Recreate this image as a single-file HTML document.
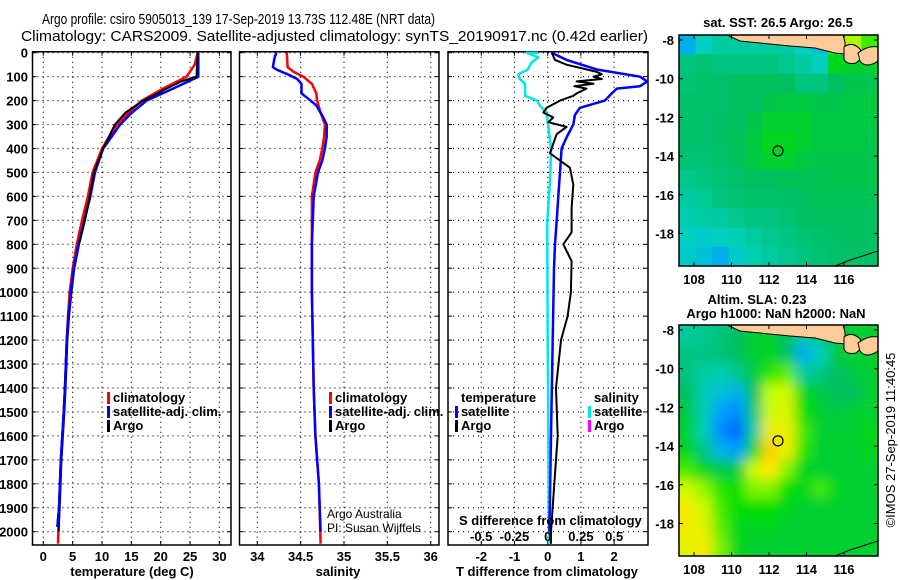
<!DOCTYPE html>
<html><head><meta charset="utf-8">
<style>
html,body{margin:0;padding:0;background:#fff;}
svg{display:block;font-family:"Liberation Sans",sans-serif;}
.b{font-weight:bold;font-size:13px;}
</style></head>
<body>
<svg id="fig" width="900" height="580" viewBox="0 0 900 580" xmlns="http://www.w3.org/2000/svg">
<text x="42" y="24" font-size="15" textLength="393" lengthAdjust="spacingAndGlyphs">Argo profile: csiro 5905013_139 17-Sep-2019 13.73S 112.48E (NRT data)</text>
<text x="21" y="41" font-size="15" textLength="627" lengthAdjust="spacingAndGlyphs">Climatology: CARS2009. Satellite-adjusted climatology: synTS_20190917.nc (0.42d earlier)</text>
<g id="g"></g>
</svg>
<script>
// ---------- data ----------
const depthTicks=[0,100,200,300,400,500,600,700,800,900,1000,1100,1200,1300,1400,1500,1600,1700,1800,1900,2000];
const tempTicks=[0,5,10,15,20,25,30];
const salTicks=[34,34.5,35,35.5,36];
const salTickLabels=["34","34.5","35","35.5","36"];
const tdTicks=[-2,-1,0,1,2];
const sdTicks=[-0.5,-0.25,0,0.25,0.5];
const sdTickLabels=["-0.5","-0.25","0","0.25","0.5"];

const climTempDepth=[0,50,100,150,200,250,300,400,500,600,700,800,900,1000,1100,1200,1400,1500,1700,1900,2050];
const climTempVal=[26.3,25.8,24.4,20.4,16.8,14.5,12.5,10.0,8.4,7.6,6.6,5.7,5.0,4.5,4.2,4.0,3.7,3.5,3.0,2.7,2.5];
const satTempDepth=[0,100,150,200,250,300,400,500,600,700,800,900,1000,1100,1200,1400,1500,1700,1900,1980];
const satTempVal=[26.4,26.4,22.1,17.6,15.1,13.1,10.2,8.8,8.0,7.0,6.0,5.2,4.7,4.3,4.0,3.7,3.5,3.0,2.7,2.4];
const argoTempDepth=[0,100,120,150,200,250,300,400,500,600,700,800,900,1000,1100,1200,1400,1500,1700,1900,2000];
const argoTempVal=[26.3,26.1,23.5,21.0,17.0,14.0,12.2,10.2,8.6,7.9,7.1,6.1,5.3,4.8,4.4,4.1,3.8,3.6,3.1,2.8,2.6];

const climSalDepth=[0,60,80,100,130,170,200,250,300,350,400,450,500,600,800,1000,1400,1600,1800,2050];
const climSalVal=[34.34,34.35,34.42,34.53,34.63,34.68,34.69,34.73,34.78,34.77,34.75,34.72,34.67,34.63,34.63,34.63,34.65,34.67,34.71,34.73];
const satSalDepth=[0,20,60,70,90,110,130,150,170,190,220,270,300,350,400,450,500,600,800,1000,1400,1600,1800,2000];
const satSalVal=[34.22,34.20,34.18,34.22,34.35,34.46,34.51,34.51,34.51,34.58,34.68,34.76,34.80,34.80,34.78,34.75,34.70,34.65,34.63,34.63,34.65,34.67,34.71,34.73];

const satTdDepth=[0,30,70,100,120,140,150,170,200,230,260,300,350,400,500,600,700,800,900,1200,1600,2000];
const satTdVal=[0.12,0.57,1.48,2.78,3.0,2.78,2.08,1.93,1.72,0.97,0.82,0.77,0.58,0.42,0.37,0.32,0.27,0.22,0.19,0.15,0.1,0.05];
const argoTdDepth=[0,30,50,80,90,100,110,120,130,140,150,170,180,200,230,250,270,290,310,340,380,420,450,480,550,650,750,800,870,1000,1100,1200,1400,1600,1800,2000,2050];
const argoTdVal=[0.12,0.22,0.57,1.48,1.63,1.38,1.63,0.87,1.38,0.8,1.17,0.87,0.77,0.37,-0.03,-0.13,0.17,0.02,0.57,0.27,0.17,0.07,0.37,0.67,0.77,0.72,0.72,0.47,0.72,0.7,0.6,0.4,0.25,0.3,0.2,0.1,0.1];
const satSdDepth=[0,0,20,40,70,90,110,130,150,180,200,220,250,300,400,500,600,700,800,1200,1600,2000,2050];
const satSdVal=[-0.07,-0.158,-0.07,-0.12,-0.15,-0.22,-0.21,-0.17,-0.17,-0.17,-0.08,-0.06,-0.01,0.003,0.025,0.02,0.01,-0.003,-0.003,0,0.005,0.01,0.01];

const latTicks=[-8,-10,-12,-14,-16,-18];
const lonTicks=[108,110,112,114,116];
const sstGrid=[
[0.3,0.4,0.45,0.45,0.45,0.45,0.45,0.4,0.35,0.7,0.78,0.7],
[0.5,0.52,0.5,0.5,0.5,0.5,0.48,0.45,0.4,0.62,0.6,0.6],
[0.52,0.53,0.53,0.55,0.55,0.55,0.55,0.5,0.5,0.55,0.57,0.57],
[0.53,0.53,0.53,0.55,0.55,0.57,0.58,0.58,0.57,0.57,0.58,0.58],
[0.53,0.53,0.54,0.55,0.57,0.6,0.6,0.6,0.58,0.58,0.58,0.58],
[0.53,0.53,0.54,0.56,0.58,0.62,0.62,0.6,0.58,0.58,0.58,0.57],
[0.52,0.52,0.53,0.55,0.58,0.6,0.6,0.58,0.57,0.57,0.57,0.57],
[0.48,0.5,0.52,0.53,0.55,0.55,0.56,0.56,0.56,0.57,0.57,0.57],
[0.45,0.47,0.5,0.52,0.53,0.53,0.54,0.55,0.56,0.56,0.56,0.56],
[0.42,0.44,0.45,0.48,0.5,0.5,0.52,0.54,0.55,0.55,0.55,0.55],
[0.4,0.38,0.4,0.42,0.45,0.48,0.5,0.52,0.53,0.54,0.55,0.55],
[0.38,0.35,0.3,0.38,0.42,0.45,0.48,0.5,0.52,0.53,0.54,0.54]];
const slaGrid=[
[0.45,0.48,0.5,0.55,0.6,0.6,0.55,0.45,0.5,0.58,0.6,0.6],
[0.5,0.5,0.52,0.55,0.6,0.62,0.55,0.28,0.4,0.58,0.6,0.6],
[0.5,0.45,0.42,0.48,0.58,0.68,0.72,0.45,0.5,0.55,0.58,0.6],
[0.55,0.42,0.35,0.3,0.55,0.8,0.82,0.62,0.58,0.55,0.55,0.6],
[0.58,0.42,0.25,0.2,0.5,0.82,0.84,0.65,0.6,0.58,0.6,0.6],
[0.6,0.42,0.2,0.1,0.45,0.88,0.87,0.7,0.6,0.6,0.6,0.62],
[0.62,0.5,0.3,0.25,0.62,0.92,0.87,0.68,0.6,0.6,0.6,0.62],
[0.7,0.62,0.58,0.58,0.82,0.9,0.75,0.62,0.6,0.6,0.6,0.6],
[0.82,0.76,0.68,0.65,0.75,0.75,0.65,0.62,0.7,0.62,0.6,0.6],
[0.88,0.82,0.7,0.65,0.65,0.65,0.62,0.6,0.6,0.6,0.6,0.6],
[0.88,0.85,0.72,0.62,0.62,0.62,0.6,0.6,0.6,0.6,0.6,0.6],
[0.85,0.88,0.74,0.62,0.6,0.6,0.6,0.6,0.6,0.6,0.6,0.6]];
const floatLon=112.48, floatLat=-13.73;

// ---------- helpers ----------
const NS="http://www.w3.org/2000/svg";
const root=document.getElementById('g');
function mk(tag,attrs,parent,text){const e=document.createElementNS(NS,tag);for(const k in attrs)e.setAttribute(k,attrs[k]);if(text!==undefined)e.textContent=text;(parent||root).appendChild(e);return e;}
const yD=d=>52.7+d*0.2395;
const PT={x0:32.5,x1:231}, PS={x0:239.5,x1:439}, PD={x0:448,x1:648};
const PY0=52.7-0.2395*4, PY1=545;
const xT=t=>43.3+t*5.87;
const xS=s=>257.3+(s-34)*86.7;
const xTd=v=>547.7+v*33.2;
const xSd=v=>547.7+v*133;

function panelFrame(P,name){
  const g=mk('g',{});
  
  
  depthTicks.forEach(d=>{const l=mk('line',{x1:P.x0,x2:P.x1,y1:yD(d),y2:yD(d),stroke:'#000','stroke-width':1.2,'stroke-dasharray':'1 4'},g);
    
    mk('line',{x1:P.x0,x2:P.x0+4,y1:yD(d),y2:yD(d),stroke:'#000','stroke-width':1},g);
    mk('line',{x1:P.x1-4,x2:P.x1,y1:yD(d),y2:yD(d),stroke:'#000','stroke-width':1},g);});
  return g;
}
function vgrid(g,P,xs){xs.forEach(x=>{const l=mk('line',{x1:x,x2:x,y1:PY0,y2:PY1,stroke:'#000','stroke-width':1.2,'stroke-dasharray':'1 4'},g);
  
  mk('line',{x1:x,x2:x,y1:PY1-4,y2:PY1,stroke:'#000'},g);mk('line',{x1:x,x2:x,y1:PY0,y2:PY0+4,stroke:'#000'},g);});}
function box(g,P){mk('rect',{x:P.x0,y:PY0,width:P.x1-P.x0,height:PY1-PY0,fill:'none',stroke:'#000','stroke-width':1.5},g);}
function line(depths,vals,xf,color,w,name){
  const pts=depths.map((d,i)=>xf(vals[i]).toFixed(1)+','+yD(d).toFixed(1)).join(' ');
  const p=mk('polyline',{points:pts,fill:'none',stroke:color,'stroke-width':w,'stroke-linejoin':'round'});
  return p;}
function txt(x,y,s,opts,parent){const t=mk('text',Object.assign({x:x,y:y,class:'b'},opts||{}),parent,s);return t;}

// ---------- panel 1: temperature ----------
const g1=panelFrame(PT,'temperature-panel');
vgrid(g1,PT,tempTicks.map(xT));
depthTicks.forEach(d=>{const t=txt(28,yD(d)+5,String(d),{'text-anchor':'end'},g1);});
tempTicks.forEach(v=>{const t=txt(xT(v),561,String(v),{'text-anchor':'middle'},g1);});
box(g1,PT);
line(climTempDepth,climTempVal,xT,'#ff0000',2.5,'climatology-temperature-line');
line(satTempDepth,satTempVal,xT,'#0000ff',2.5,'satellite-temperature-line');
line(argoTempDepth,argoTempVal,xT,'#000000',2,'argo-temperature-line');
line(satTempDepth.slice(10),satTempVal.slice(10),xT,'#0000ff',2.5,'satellite-temperature-line-deep');
{const t=txt(132,576,'temperature (deg C)',{'text-anchor':'middle'});}

// ---------- panel 2: salinity ----------
const g2=panelFrame(PS,'salinity-panel');
vgrid(g2,PS,salTicks.map(xS));
salTicks.forEach((v,i)=>{const t=txt(xS(v),561,salTickLabels[i],{'text-anchor':'middle'},g2);});
box(g2,PS);
line(climSalDepth,climSalVal,xS,'#ff0000',2.5,'climatology-salinity-line');
line(satSalDepth,satSalVal,xS,'#0000ff',2.5,'satellite-salinity-line');
{const t=txt(338,576,'salinity',{'text-anchor':'middle'});}
{const t=mk('text',{x:327,y:518,'font-size':12},null,'Argo Australia');
 const t2=mk('text',{x:327,y:532,'font-size':12},null,'PI: Susan Wijffels');}

// ---------- panel 3: differences ----------
const g3=panelFrame(PD,'difference-panel');
vgrid(g3,PD,tdTicks.map(xTd));
tdTicks.forEach(v=>{const t=txt(xTd(v),561,String(v),{'text-anchor':'middle'},g3);});
box(g3,PD);
line(satSdDepth,satSdVal,xSd,'#00e5ee',2.5,'satellite-salinity-difference-line');
line(satTdDepth,satTdVal,xTd,'#0000ff',2.5,'satellite-temperature-difference-line');
line(argoTdDepth,argoTdVal,xTd,'#000000',2,'argo-temperature-difference-line');
{const t=txt(459,525,'S difference from climatology',{});}
sdTicks.forEach((v,i)=>{const t=txt(xSd(v),541,sdTickLabels[i],{'text-anchor':'middle'});});
{const t=txt(547,576,'T difference from climatology',{'text-anchor':'middle'});}

// ---------- legends ----------
function legend(x,y,items,name){const g=mk('g',{});
  items.forEach((it,i)=>{if(it[0])mk('rect',{x:x,y:y+i*14-10,width:3,height:12,fill:it[0]},g);
    const t=txt(x+6,y+i*14,it[1],{},g);});}
legend(107,402,[['#ff0000','climatology'],['#0000ff','satellite-adj. clim.'],['#000','Argo']],'temperature-legend');
legend(329,402,[['#ff0000','climatology'],['#0000ff','satellite-adj. clim.'],['#000','Argo']],'salinity-legend');
legend(455,402,[[null,'temperature'],['#0000ff','satellite'],['#000','Argo']],'t-diff-legend');
legend(588,402,[[null,'salinity'],['#00e5ee','satellite'],['#ff00ff','Argo']],'s-diff-legend');

// ---------- maps ----------
const stops=[[0,[0,64,255]],[0.25,[0,160,255]],[0.4,[0,208,192]],[0.55,[0,192,96]],[0.65,[0,224,0]],[0.8,[192,255,0]],[0.9,[255,230,0]],[1,[255,128,0]]];
function cmap(v){for(let i=1;i<stops.length;i++){if(v<=stops[i][0]){const a=stops[i-1],b=stops[i];const f=(v-a[0])/(b[0]-a[0]);return 'rgb('+a[1].map((c,k)=>Math.round(c+(b[1][k]-c)*f)).join(',')+')';}}return 'rgb(255,128,0)';}
function drawMap(top,grid,name,blur){
  const M={x0:679,x1:878,y0:top,y1:top+231};
  const lonX=l=>694+(l-108)*18.75, latY=la=>top+5+(-8-la)*19.35;
  const g=mk('g',{});
  const cid='clip'+top;const cp=mk('clipPath',{id:cid},g);mk('rect',{x:M.x0,y:M.y0,width:M.x1-M.x0,height:M.y1-M.y0},cp);
  if(blur){const f=mk('filter',{id:'bl'+top,x:'-10%',y:'-10%',width:'120%',height:'120%'},g);mk('feGaussianBlur',{stdDeviation:6},f);}
  const inner=mk('g',{'clip-path':'url(#'+cid+')'},g);
  const cells=mk('g',blur?{filter:'url(#bl'+top+')'}:{},inner);
  const nr=grid.length,nc=grid[0].length,cw=(M.x1-M.x0)/nc,ch=(M.y1-M.y0)/nr;
  const ext=blur?20:0;
  grid.forEach((row,r)=>row.forEach((v,c)=>{
    const x=M.x0+c*cw-(c===0?ext:0), y=M.y0+r*ch-(r===0?ext:0);
    const w=cw+0.5+(c===0?ext:0)+(c===nc-1?ext:0), h=ch+0.5+(r===0?ext:0)+(r===nr-1?ext:0);
    const e=mk('rect',{x:x,y:y,width:w,height:h,fill:cmap(v)},cells);
    }));
  const land=[[727,0],[740,6],[760,8],[790,11],[815,13],[835,18],[845,19],[845,7],[843,0]];
  const lp=mk('polygon',{points:land.map(p=>p[0]+','+(top+p[1])).join(' '),fill:'#ffcc99',stroke:'#000','stroke-width':1},inner);
  
  mk('path',{d:`M844 ${top+12} q8 -6 16 2 q4 8 -4 14 q-10 2 -12 -4z`,fill:'#ffcc99',stroke:'#000'},inner);
  mk('path',{d:`M858 ${top+18} q10 -8 20 -6 l0 14 q-12 8 -18 0z`,fill:'#ffcc99',stroke:'#000'},inner);
  mk('polyline',{points:`835,${top+231} 850,${top+225} 878,${top+216}`,fill:'none',stroke:'#000'},inner);
  mk('rect',{x:M.x0,y:M.y0,width:M.x1-M.x0,height:M.y1-M.y0,fill:'none',stroke:'#000','stroke-width':1.5},g);
  latTicks.forEach(la=>{const y=latY(la);mk('line',{x1:M.x0,x2:M.x0+4,y1:y,y2:y,stroke:'#000'},g);mk('line',{x1:M.x1-4,x2:M.x1,y1:y,y2:y,stroke:'#000'},g);
    const t=txt(674,y+5,String(la),{'text-anchor':'end'},g);});
  lonTicks.forEach(lo=>{const x=lonX(lo);mk('line',{x1:x,x2:x,y1:M.y1-4,y2:M.y1,stroke:'#000'},g);mk('line',{x1:x,x2:x,y1:M.y0,y2:M.y0+4,stroke:'#000'},g);
    const t=txt(x,M.y1+18,String(lo),{'text-anchor':'middle'},g);});
  const c=mk('circle',{cx:lonX(floatLon),cy:latY(floatLat),r:5,fill:'none',stroke:'#000','stroke-width':1.2},g);
  
}
drawMap(35,sstGrid,'sst-map',false);
drawMap(325,slaGrid,'sla-map',true);
{const t=txt(778,27,'sat. SST: 26.5 Argo: 26.5',{'text-anchor':'middle'});}
{const t=txt(757,304,'Altim. SLA: 0.23',{'text-anchor':'middle'});}
{const t=txt(776,318,'Argo h1000: NaN h2000: NaN',{'text-anchor':'middle'});}
{const t=mk('text',{x:0,y:0,'font-size':13,'text-anchor':'middle',transform:'translate(895,440) rotate(-90)'},null,'©IMOS 27-Sep-2019 11:40:45');}
</script>
</body></html>
